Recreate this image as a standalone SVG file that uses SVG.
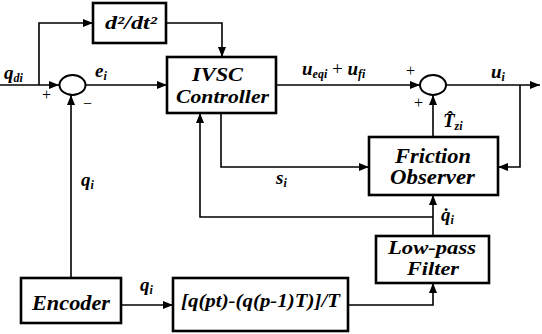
<svg xmlns="http://www.w3.org/2000/svg" width="542" height="334" viewBox="0 0 542 334" font-family="'Liberation Serif', 'DejaVu Serif', 'Times New Roman', serif">
<style>
.box{fill:#fff;stroke:#000;stroke-width:2.6}
.sum{fill:#fff;stroke:#000;stroke-width:2}
.c{fill:none;stroke:#000;stroke-width:1.6}
text{font-weight:bold;font-style:italic;fill:#000}
.bt{font-size:20px;text-anchor:middle}
.lb{font-size:19px}
.sb{font-size:12px}
.pm{font-size:16px;font-style:normal;font-weight:normal}
</style>
<defs>
<marker id="ah" viewBox="0 0 10 8" refX="10" refY="4" markerWidth="10" markerHeight="8" markerUnits="userSpaceOnUse" orient="auto">
<path d="M0,0 L10,4 L0,8 Z" fill="#000"/>
</marker>
</defs>
<g id="connectors">
<path class="c" d="M0,85 H59" marker-end="url(#ah)"/>
<path class="c" d="M39,85 V23 H93" marker-end="url(#ah)"/>
<path class="c" d="M166,23 H222 V57" marker-end="url(#ah)"/>
<path class="c" d="M86,85 H167" marker-end="url(#ah)"/>
<path class="c" d="M71,278 V95" marker-end="url(#ah)"/>
<path class="c" d="M276,85 H420" marker-end="url(#ah)"/>
<path class="c" d="M221,113 V167 H369" marker-end="url(#ah)"/>
<path class="c" d="M433,217 H200 V113" marker-end="url(#ah)"/>
<path class="c" d="M433,236 V195" marker-end="url(#ah)"/>
<path class="c" d="M433,137 V95" marker-end="url(#ah)"/>
<path class="c" d="M446,85 H540" marker-end="url(#ah)"/>
<path class="c" d="M520,85 V167 H498" marker-end="url(#ah)"/>
<path class="c" d="M121,305 H173" marker-end="url(#ah)"/>
<path class="c" d="M348,305 H433 V283" marker-end="url(#ah)"/>
</g>
<g id="sum1"><ellipse class="sum" cx="72.5" cy="85" rx="13" ry="10"/></g>
<g id="sum2"><ellipse class="sum" cx="433" cy="85" rx="13" ry="10"/></g>
<g id="deriv"><rect class="box" x="93" y="3" width="73" height="40"/><text class="bt" x="131" y="29" style="font-size:18px" textLength="52" lengthAdjust="spacingAndGlyphs">d²/dt²</text></g>
<g id="ivsc"><rect class="box" x="167" y="57" width="109" height="56"/><text class="bt" x="217.5" y="81" style="font-size:19px" textLength="51" lengthAdjust="spacingAndGlyphs">IVSC</text><text class="bt" x="222.5" y="103" style="font-size:19px" textLength="93" lengthAdjust="spacingAndGlyphs">Controller</text></g>
<g id="friction"><rect class="box" x="369" y="137" width="129" height="58"/><text class="bt" x="433" y="163" textLength="76" lengthAdjust="spacingAndGlyphs">Friction</text><text class="bt" x="432.5" y="184" textLength="85" lengthAdjust="spacingAndGlyphs">Observer</text></g>
<g id="lpf"><rect class="box" x="376" y="236" width="113" height="47"/><text class="bt" x="432" y="254" style="font-size:18px" textLength="88" lengthAdjust="spacingAndGlyphs">Low-pass</text><text class="bt" x="433" y="275" style="font-size:18px" textLength="52" lengthAdjust="spacingAndGlyphs">Filter</text></g>
<g id="encoder"><rect class="box" x="21" y="278" width="100" height="45"/><text class="bt" x="71" y="310" textLength="78" lengthAdjust="spacingAndGlyphs">Encoder</text></g>
<g id="diff"><rect class="box" x="173" y="278" width="175" height="53"/><text class="bt" x="260.5" y="307" style="font-size:18px" textLength="159" lengthAdjust="spacingAndGlyphs">[q(pt)-(q(p-1)T)]/T</text></g>
<g id="labels">
<text class="lb" x="4" y="79">q<tspan class="sb" dy="3">di</tspan></text>
<text class="pm" x="42" y="100">+</text>
<text class="pm" x="83" y="109">−</text>
<text class="lb" x="95" y="77">e<tspan class="sb" dy="3">i</tspan></text>
<text class="lb" x="302" y="75">u<tspan class="sb" dy="3">eqi</tspan><tspan dy="-3" style="font-style:normal;font-weight:normal"> + </tspan>u<tspan class="sb" dy="3">fi</tspan></text>
<text class="pm" x="406" y="76">+</text>
<text class="pm" x="414" y="108">+</text>
<text class="lb" x="491" y="78">u<tspan class="sb" dy="3">i</tspan></text>
<text class="lb" x="443" y="127">T̂<tspan class="sb" dy="3">zi</tspan></text>
<text class="lb" x="276" y="184">s<tspan class="sb" dy="3">i</tspan></text>
<text class="lb" x="81" y="186">q<tspan class="sb" dy="3">i</tspan></text>
<text class="lb" x="140" y="291">q<tspan class="sb" dy="3">i</tspan></text>
<text class="lb" x="441" y="221">q̇<tspan class="sb" dy="3">i</tspan></text>
</g>
</svg>
